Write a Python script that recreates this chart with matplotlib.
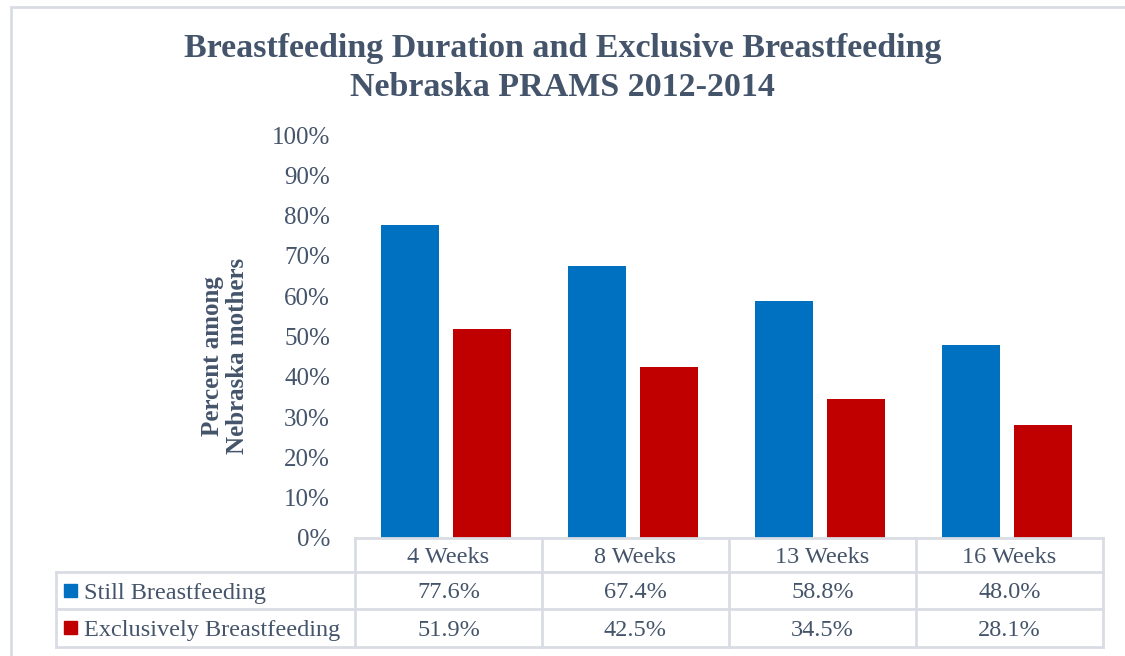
import matplotlib.pyplot as plt
import matplotlib.patches as mpatches
from matplotlib.lines import Line2D

categories = ['4 Weeks', '8 Weeks', '13 Weeks', '16 Weeks']
series_names = ['Still Breastfeeding', 'Exclusively Breastfeeding']
still_bf = [77.6, 67.4, 58.8, 48.0]
exclusive_bf = [51.9, 42.5, 34.5, 28.1]
colors = ['#0070C0', '#C00000']
text_col = '#44546A'
grid_col = '#D9DDE3'

W, H = 1125, 656
plt.rcParams['font.family'] = ['Liberation Serif', 'DejaVu Serif']

fig = plt.figure(figsize=(W / 100, H / 100), dpi=100)


def fx(px):
    return px / W


def fy(py):
    return 1 - py / H


# plot area in pixel coords
left, right, top, bottom = 355, 1103, 135, 538
ax = fig.add_axes([fx(left), fy(bottom), fx(right - left), fy(top) - fy(bottom)])

n = len(categories)
xs = list(range(n))
bw = 0.31
gap = 0.075
off = -0.015
ax.bar([x - (bw + gap) / 2 + off for x in xs], still_bf, width=bw, color=colors[0])
ax.bar([x + (bw + gap) / 2 + off for x in xs], exclusive_bf, width=bw, color=colors[1])
ax.set_xlim(-0.5, n - 0.5)
ax.set_ylim(0, 100)
ax.set_yticks(range(0, 101, 10))
ax.set_yticklabels([f'{v}%' for v in range(0, 101, 10)], fontsize=18, color=text_col)
ax.tick_params(axis='y', length=0, pad=18)
ax.set_xticks([])
for s in ax.spines.values():
    s.set_visible(False)

# y label
fig.text(fx(212), fy(356), 'Percent among', rotation=90, ha='center', va='center',
         fontsize=18, fontweight='bold', color=text_col)
fig.text(fx(238), fy(356), 'Nebraska mothers', rotation=90, ha='center', va='center',
         fontsize=18, fontweight='bold', color=text_col)

# title
fig.text(0.5, fy(49), 'Breastfeeding Duration and Exclusive Breastfeeding',
         ha='center', va='center', fontsize=24.5, fontweight='bold', color=text_col)
fig.text(0.5, fy(87), 'Nebraska PRAMS 2012-2014',
         ha='center', va='center', fontsize=24.5, fontweight='bold', color=text_col)

# outer chart border
fig.add_artist(mpatches.Rectangle((fx(11), fy(H + 5)), fx(W + 20), fy(7) - fy(H + 5),
                                  fill=False, edgecolor=grid_col, lw=2))

# data table
tab_left = 56
col_w = (right - left) / n
rows_y = [538, 572, 609, 647]
dy = 2.5  # nudge text down to sit centred like the original


def hline(y, x0, x1):
    fig.add_artist(Line2D([fx(x0), fx(x1)], [fy(y), fy(y)], color=grid_col, lw=2))


def vline(x, y0, y1):
    fig.add_artist(Line2D([fx(x), fx(x)], [fy(y0), fy(y1)], color=grid_col, lw=2))


hline(rows_y[0], left, right)
for y in rows_y[1:]:
    hline(y, tab_left, right)
vline(tab_left, rows_y[1], rows_y[3])
for i in range(n + 1):
    vline(left + i * col_w, rows_y[0], rows_y[3])

for i, cat in enumerate(categories):
    cx = left + (i + 0.5) * col_w
    fig.text(fx(cx), fy((rows_y[0] + rows_y[1]) / 2 + dy), cat, ha='center', va='center',
             fontsize=17.5, color=text_col)
    for r, vals in enumerate([still_bf, exclusive_bf]):
        fig.text(fx(cx), fy((rows_y[r + 1] + rows_y[r + 2]) / 2 + dy), f'{vals[i]:.1f}%',
                 ha='center', va='center', fontsize=17.5, color=text_col)

for r, name in enumerate(series_names):
    cy = (rows_y[r + 1] + rows_y[r + 2]) / 2
    fig.add_artist(mpatches.Rectangle((fx(64), fy(cy + 6)), fx(13), fy(cy - 7) - fy(cy + 6),
                                      color=colors[r]))
    fig.text(fx(84), fy(cy + dy), name, ha='left', va='center', fontsize=17.5, color=text_col)

fig.savefig('out.png', dpi=100)
